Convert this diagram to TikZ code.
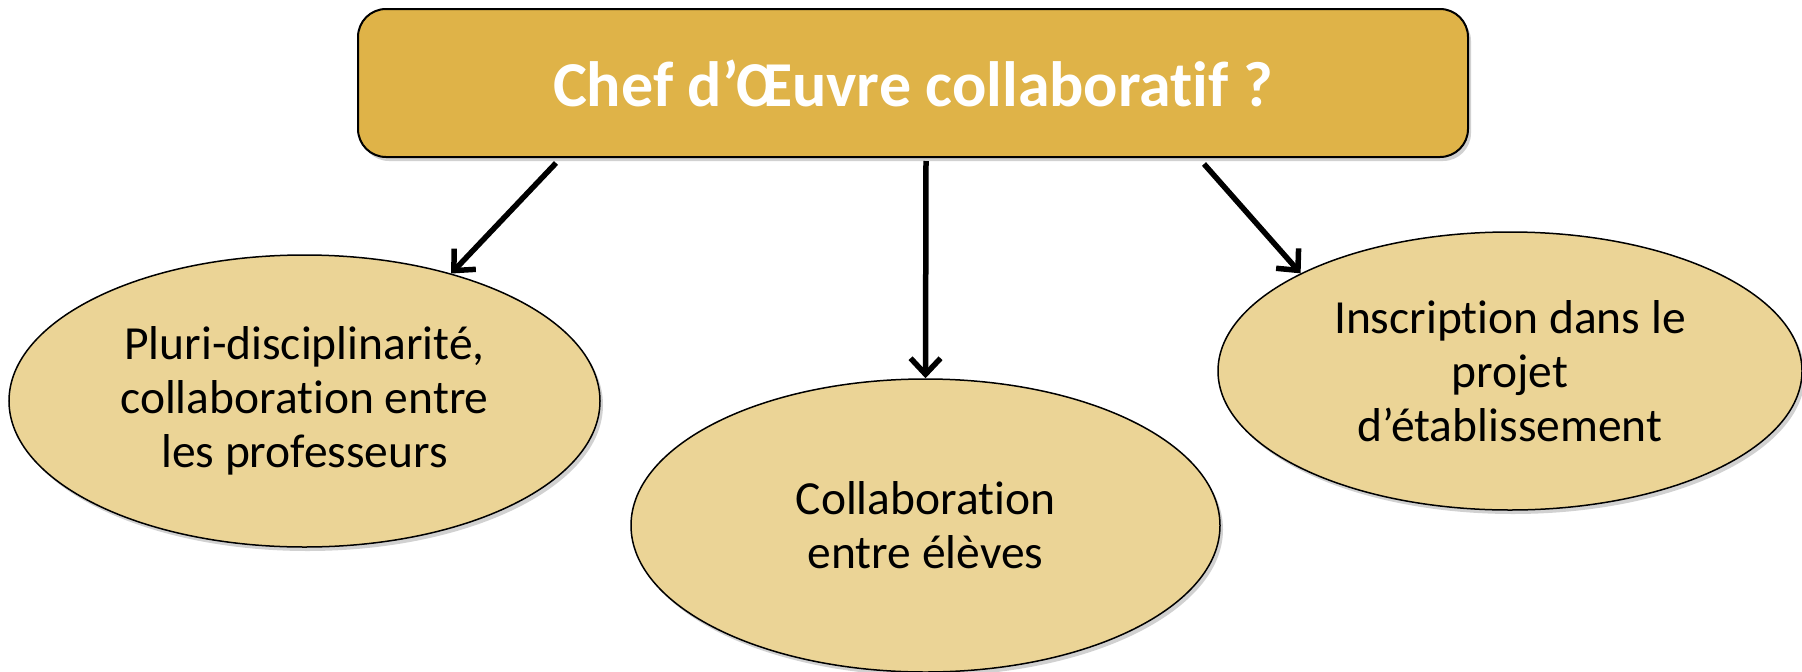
\documentclass[tikz,border=0pt]{standalone}
\usepackage{fontspec}
\setmainfont{Carlito}[Ligatures=NoCommon]
\usetikzlibrary{shapes.geometric,arrows.meta,shadows}
\definecolor{boxgold}{RGB}{223,179,72}
\definecolor{ellgold}{RGB}{235,212,150}
\tikzset{
  titlebox/.style={rectangle, rounded corners=28pt, draw=black, line width=2pt, fill=boxgold,
    minimum width=1110pt, minimum height=148pt, inner sep=0pt,
    drop shadow={shadow xshift=3pt, shadow yshift=-4pt, opacity=0.3, fill=black!60},
    text=white, font=\fontsize{64}{74}\selectfont\bfseries},
  topic/.style={ellipse, draw=black, line width=1.5pt, fill=ellgold, inner sep=0pt,
    drop shadow={shadow xshift=3pt, shadow yshift=-4pt, opacity=0.3, fill=black!60},
    align=center, font=\fontsize{47.5}{54}\selectfont},
  link/.style={draw=black, line width=5.5pt, -{Straight Barb[length=16pt,width=30pt]}}
}
\begin{document}
\begin{tikzpicture}[x=1pt,y=-1pt]
\useasboundingbox (0,0) rectangle (1802,672);
\node[titlebox] (T) at (913,83) {Chef d’Œuvre collaboratif ?};
\node[topic, minimum width=591pt, minimum height=292pt] (L) at (304.5,401)
  {Pluri-disciplinarité,\\collaboration entre\\les professeurs};
\node[topic, minimum width=589pt, minimum height=293pt] (M) at (925.5,525.5)
  {Collaboration\\entre élèves};
\node[topic, minimum width=584pt, minimum height=278pt] (R) at (1510,371)
  {Inscription dans le\\projet\\d’établissement};
\coordinate (s1) at (556,163);
\coordinate (s2) at (926,161);
\coordinate (s3) at (1204,164);
\draw[link] (s1) -- (L.41);
\draw[link] (s2) -- (M.north);
\draw[link] (s3) -- (R.155);
\end{tikzpicture}
\end{document}
